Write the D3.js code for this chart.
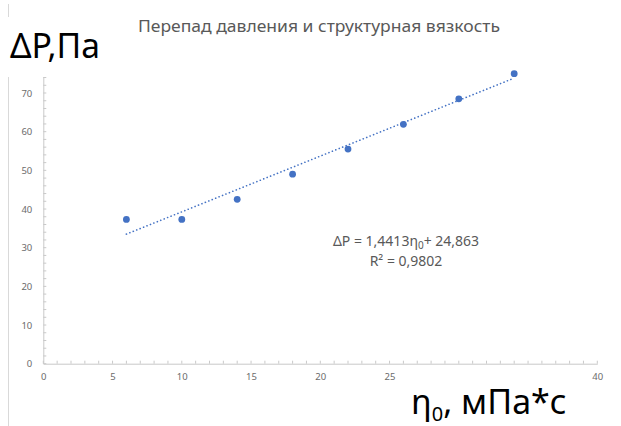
<!DOCTYPE html>
<html><head><meta charset="utf-8">
<script src="https://cdn.jsdelivr.net/npm/d3@7"></script>
<style>html,body{margin:0;padding:0;background:#fff;}svg{display:block;}</style>
</head><body>
<svg id="c" width="621" height="426"></svg>
<script>
// Data
const viscosity = [6, 10, 14, 18, 22, 26, 30, 34];          // η0, мПа*с
const pressureDrop = [37.3, 37.3, 42.5, 49.0, 55.5, 61.9, 68.5, 75.0]; // ΔP, Па
const trendSlope = 1.4413, trendIntercept = 24.863;
const xTickLabels = [0, 5, 10, 15, 20, 25, 40];   // 30 and 35 are hidden under the axis title in the reference
const yTickLabels = [0, 10, 20, 30, 40, 50, 60, 70];
const titleText = "Перепад давления и структурная вязкость";

const svg = d3.select("#c");
const color = "#4472C4", axisColor = "#C9C9C9", labelColor = "#6b6b6b";
const font = "'Noto Sans', 'Open Sans', sans-serif";

const x = d3.scaleLinear().domain([0, 40]).range([43.3, 597.3]);
const y = d3.scaleLinear().domain([0, 80]).range([363.7, 363.7 - 8 * 38.67]);

// left border line
svg.append("line").attr("x1", 8.5).attr("x2", 8.5).attr("y1", 4).attr("y2", 426)
  .attr("stroke", "#D9D9D9").attr("stroke-width", 1);

// title
svg.append("text").attr("x", 319).attr("y", 32).attr("text-anchor", "middle")
  .attr("font-family", font).attr("font-size", 15.5).attr("fill", "#595959")
  .attr("textLength", 362).attr("lengthAdjust", "spacingAndGlyphs")
  .text(titleText);

// axes
const xAxis = svg.append("g").attr("transform", `translate(0,${y(0)})`)
  .call(d3.axisBottom(x).tickValues(xTickLabels).tickSize(0).tickPadding(10).tickFormat(d3.format("d")));
xAxis.select(".domain").attr("stroke", axisColor);
xAxis.selectAll("text").attr("font-family", font).attr("font-size", 9.5).attr("fill", labelColor);
// x minor ticks (inside)
svg.append("g").selectAll("line").data(d3.range(0, 41, 1)).join("line")
  .attr("x1", d => x(d)).attr("x2", d => x(d)).attr("y1", y(0)).attr("y2", y(0) - 3)
  .attr("stroke", axisColor);

const yAxis = svg.append("g").attr("transform", `translate(${x(0)},0)`)
  .call(d3.axisLeft(y).tickValues(yTickLabels).tickSize(0).tickPadding(11).tickFormat(d3.format("d")));
yAxis.select(".domain").attr("stroke", axisColor);
yAxis.selectAll("text").attr("font-family", font).attr("font-size", 9.5).attr("fill", labelColor);
svg.append("g").selectAll("line").data(d3.range(0, 81, 2)).join("line")
  .attr("x1", x(0)).attr("x2", x(0) + 3).attr("y1", d => y(d)).attr("y2", d => y(d))
  .attr("stroke", axisColor);

// trendline
const tx = [viscosity[0], viscosity[viscosity.length - 1]];
svg.append("path")
  .attr("d", d3.line().x(d => x(d)).y(d => y(trendSlope * d + trendIntercept))(tx))
  .attr("stroke", color).attr("stroke-width", 1.6).attr("fill", "none")
  .attr("stroke-dasharray", "0.1 3.6").attr("stroke-linecap", "round");

// points
svg.append("g").selectAll("circle").data(viscosity.map((v, i) => [v, pressureDrop[i]])).join("circle")
  .attr("cx", d => x(d[0])).attr("cy", d => y(d[1])).attr("r", 3.4).attr("fill", color);

// equation
const eq = svg.append("text").attr("x", 406).attr("y", 246).attr("text-anchor", "middle")
  .attr("font-family", font).attr("font-size", 14).attr("fill", "#595959");
eq.append("tspan").text("ΔP = 1,4413η");
eq.append("tspan").attr("font-size", 10).attr("dy", 3).text("0");
eq.append("tspan").attr("dy", -3).text("+ 24,863");
svg.append("text").attr("x", 406).attr("y", 266).attr("text-anchor", "middle")
  .attr("font-family", font).attr("font-size", 14).attr("fill", "#595959")
  .text("R² = 0,9802");

// y axis title box (covers the top of the axis, as in the reference)
svg.append("rect").attr("x", 0).attr("y", 17).attr("width", 115).attr("height", 60).attr("fill", "#fff");
svg.append("text").attr("x", 10).attr("y", 57.5)
  .attr("font-family", font).attr("font-size", 35).attr("fill", "#000")
  .attr("textLength", 90).attr("lengthAdjust", "spacingAndGlyphs")
  .text("ΔP,Па");

// x axis title
const xt = svg.append("text").attr("x", 411).attr("y", 414)
  .attr("font-family", font).attr("font-size", 34).attr("fill", "#000");
xt.append("tspan").text("η");
xt.append("tspan").attr("font-size", 20).attr("dy", 7).text("0");
xt.append("tspan").attr("dy", -7).text(", мПа*с");
</script>
</body></html>
